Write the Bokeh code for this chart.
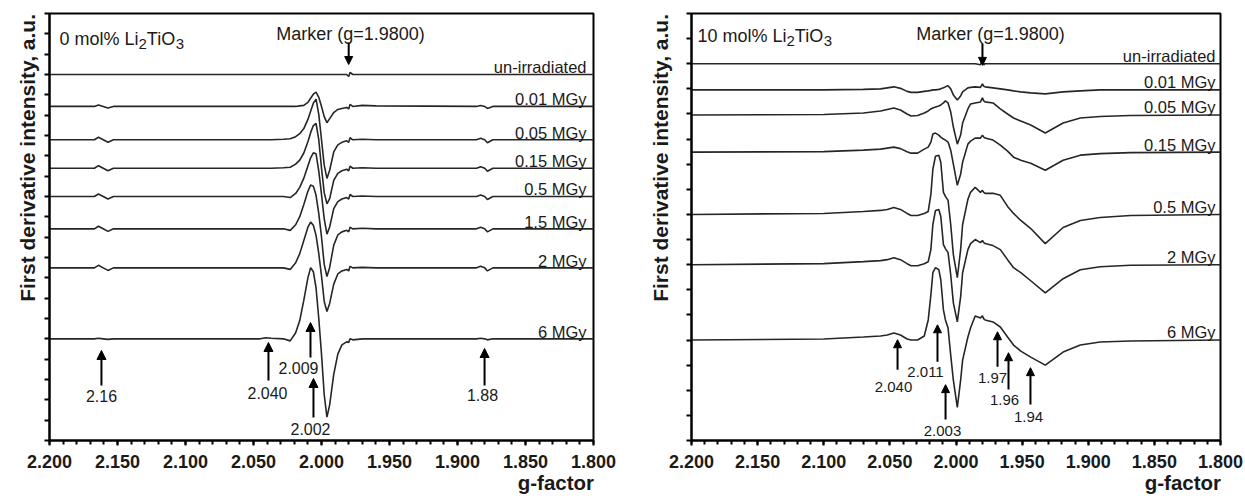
import math
import numpy as np
from bokeh.plotting import figure
from bokeh.models import (Range1d, FixedTicker, Label, Arrow, NormalHead, LinearAxis,
                          CustomJSTickFormatter, PrintfTickFormatter)
from bokeh.layouts import row
from bokeh.embed import file_html
from bokeh.resources import INLINE

FONT = "Liberation Sans"
TXT = "#1a1a1a"
LINE = "#262626"

# ---------------- LEFT PANEL: 0 mol% Li2TiO3 ----------------
LEFT_DOSES = ["un-irradiated", "0.01 MGy", "0.05 MGy", "0.15 MGy",
              "0.5 MGy", "1.5 MGy", "2 MGy", "6 MGy"]
LEFT_BASE = [360, 328.6, 295.8, 267.8, 240, 208.2, 169.8, 100]
LEFT_G = [2.200, 2.167, 2.164, 2.1605, 2.157, 2.153,
          2.045, 2.041, 2.037, 2.028, 2.023, 2.019, 2.016, 2.013, 2.010, 2.008,
          2.006, 2.004, 2.002, 2.000, 1.998, 1.996, 1.994, 1.991, 1.988, 1.985,
          1.9815, 1.980, 1.979, 1.977, 1.970, 1.960,
          1.886, 1.883, 1.880, 1.878, 1.874, 1.800]
L_UNIRR = [0, 0, 0, 0, 0, 0,
           0, 0, 0, 0, 0, 0, 0, 0, 0, 0, 0, 0, 0, 0, 0, 0, 0, 0, 0, 0,
           0, -2, 2, 0, 0, 0,
           0, 0, 0, 0, 0, 0]
L_001 = [0, 0, 1.5, 0, -1.5, 0,
         0, 0, 0, 0, 0, 0, 0.5, 1, 4, 8, 12, 14, 9, 0, -10, -16, -12, -6, -3, -2,
         -1, -2.5, 2, 0, 1, 0.5,
         0, 1, 0, -2, 0, 0]
L_005 = [0, 0, 2.5, 0, -2.5, 0,
         0, 0, 0, 0.5, 1, 3, 6, 11, 20, 28, 36, 40, 25, 0, -25, -38, -30, -12, -5, -2.5,
         -1, -2.5, 2, 0, 0.5, 0,
         0, 1.5, 0, -3, 0, 0]
L_015 = [0, 0, 2.5, 0, -2.5, 0,
         0, 0, 0, 0.5, 1, 4, 8, 15, 26, 35, 42, 44, 28, 0, -24, -35, -30, -12, -5, -2.5,
         -1, -2.5, 2, 0, 0.5, 0,
         0, 1.5, 0, -3, 0, 0]
L_05 = [0, 0, 2.5, 0, -2.5, 0,
        0, 0, 0, 0, -1, 3, 9, 18, 30, 38, 43, 42, 25, 2, -22, -37, -30, -12, -5, -2.5,
        -1, -2.5, 2, 0, 0.5, 0,
        0, 1.5, 0, -3, 0, 0]
L_15 = [0, 0, 2.5, 0, -2.5, 0,
        0, 0, 0, 0, -1.5, 4, 12, 24, 37, 43, 42, 33, 15, -8, -35, -47, -38, -16, -6, -3,
        -1.5, -3, 1.5, 0, 0.5, 0,
        0, 1.5, 0, -3, 0, 0]
L_2 = [0, 0, 2.5, 0, -2.5, 0,
       0, 0, 0, 0, -1.5, 5, 14, 27, 40, 45, 42, 32, 14, -8, -33, -43, -35, -16, -6, -3,
       -1.5, -3, 1.5, 0, 0.5, 0,
       0, 1.5, 0, -3, 0, 0]
L_6 = [0, 0, 0.5, 0, -0.5, 0,
       0, 1, 0.5, 0, -2, 6, 18, 38, 60, 70, 66, 50, 20, -15, -55, -77, -65, -35, -15, -6,
       -3, -3.5, 0, -1, 0, 0,
       0, 0.5, 0, -1, 0, 0]
LEFT_TRACES = [L_UNIRR, L_001, L_005, L_015, L_05, L_15, L_2, L_6]
LEFT_PEAK_G = [2.1618, 2.039, 2.0081, 2.0059, 1.8801]
LEFT_PEAK_LABELS = ["2.16", "2.040", "2.009", "2.002", "1.88"]

# ---------------- RIGHT PANEL: 10 mol% Li2TiO3 ----------------
RIGHT_DOSES = ["un-irradiated", "0.01 MGy", "0.05 MGy", "0.15 MGy",
               "0.5 MGy", "2 MGy", "6 MGy"]
RIGHT_BASE = [375, 349, 324, 287, 225, 175, 100]
RIGHT_G = [2.200, 2.100, 2.070, 2.057, 2.052, 2.047, 2.042, 2.037, 2.034, 2.029,
           2.024, 2.021, 2.019, 2.0175, 2.0155, 2.013, 2.0115, 2.0095, 2.008, 2.006,
           2.004, 2.002, 1.999, 1.9965, 1.995, 1.991, 1.989, 1.9855, 1.9815, 1.980,
           1.979, 1.978, 1.972, 1.9665, 1.961, 1.9565, 1.951, 1.9435, 1.9325, 1.919,
           1.906, 1.891, 1.868, 1.800]
R_UNIRR = [0] * 28 + [-1, 4, -1] + [0] * 13
R_001 = [0, 0, 0.5, 1, 2, 3, 1.5, -1.5, -2.5, -2.5, -1.5, -1, -0.5, 0, 0, 0.5, 1, 2, 3, 4,
         1, -5, -10, -6, -2, 2, 2.5, 3, 2.5, 6, 3.5, 3, 2, 1, 0, -1, -2, -3, -4, -2,
         -1, 0, 0, 0]
R_005 = [0, 0.5, 2, 4, 5.5, 7, 5, 1, -1, -0.5, 2, 4, 6, 7, 8, 9, 10, 12, 14, 12,
         3, -12, -29, -20, -8, 6, 11, 12, 13, 17, 14, 13, 12, 6, 1, -3, -6, -10, -18, -8,
         -3, -1.5, -0.5, 0]
R_015 = [0, 0.5, 2, 3, 4, 5, 3.5, 0.5, -1, -1, 3, 5, 10, 18, 19, 17, 15, 13, 12, 10,
         2, -12, -33, -22, -10, 8, 11, 14, 14, 17, 15, 14, 12, 7, 1, -5, -8, -11, -18, -8,
         -3, -1.5, -0.5, 0]
R_05 = [0, 1, 3, 4, 5, 7, 5, 1, -1, -1, 1, 3, 20, 45, 58, 59, 52, 22, 18, 14,
        -10, -40, -63, -35, -10, 15, 22, 27, 22, 24, 22, 21, 21, 19, 8, 1, -6, -14, -29, -13,
        -6, -3, -1, 0]
R_2 = [0, 1, 3, 4, 5, 7, 5, 1, -1, -1, 1, 3, 15, 40, 54, 55, 48, 20, 16, 12,
       -10, -38, -57, -32, -8, 15, 21, 25, 22, 24, 22, 21, 19, 15, 5, -3, -8, -16, -28, -14,
       -5, -2, -0.5, 0]
R_6 = [0, 1, 3, 4, 5, 7, 5, 1, 0, 0, 4, 20, 45, 67, 72, 70, 60, 30, 20, 12,
       -15, -40, -67, -40, -20, 3, 12, 24, 22, 24, 21, 20, 18, 13, 3, -5, -11, -17, -25, -12,
       -5, -2, -1, 0]
RIGHT_TRACES = [R_UNIRR, R_001, R_005, R_015, R_05, R_2, R_6]
RIGHT_PEAK_G = [2.0442, 2.0140, 2.0079, 1.9686, 1.9603, 1.9437]
RIGHT_PEAK_LABELS = ["2.040", "2.011", "2.003", "1.97", "1.96", "1.94"]

MARKER_G = 1.98
X_MAJOR = [round(2.2 - 0.05 * i, 3) for i in range(9)]
X_MINOR = [round(2.2 - 0.01 * i, 3) for i in range(41)]
Y_TITLE = "First derivative intensity, a.u."
X_TITLE = "g-factor"

# Arial-like advance widths (per 1000 em) for composing sub-scripted titles
ADV = {'0': 556, '1': 556, '2': 556, '3': 556, ' ': 278, 'm': 833, 'o': 556,
       'l': 222, '%': 889, 'L': 556, 'i': 222, 'T': 611, 'O': 778, 'g': 611,
       '-': 333, 'f': 333, 'a': 556, 'c': 556, 't': 333, 'r': 389}


def tw(s, size):
    return sum(ADV[c] for c in s) * size / 1000.0


def make_panel(width, bl, br, bb, n_ticks, step, frame_px_h, frame_left_px,
               frame_right_px, frame_bottom_px, px_per_g, ytitle_top_py, ytitle_standoff):
    p = figure(width=width, height=499, output_backend="svg", toolbar_location=None,
               x_range=Range1d(2.2, 1.8), y_range=Range1d(0, n_ticks * step),
               min_border_left=bl, min_border_right=br, min_border_top=13,
               min_border_bottom=bb)
    p.background_fill_color = "white"
    p.border_fill_color = "white"
    p.outline_line_color = "black"
    p.outline_line_width = 2
    p.grid.visible = False
    xa = p.xaxis[0]
    xa.ticker = FixedTicker(ticks=X_MAJOR, minor_ticks=X_MINOR)
    xa.formatter = PrintfTickFormatter(format="%.3f")
    xa.major_label_text_font = FONT
    xa.major_label_text_font_style = "bold"
    xa.major_label_text_font_size = "18px"
    xa.major_label_text_color = TXT
    xa.major_label_standoff = 9
    xa.axis_line_width = 2
    xa.major_tick_out = 5
    xa.major_tick_in = 0
    xa.minor_tick_out = 4
    xa.minor_tick_in = 0
    xa.major_tick_line_width = 2
    xa.minor_tick_line_width = 2
    ya = p.yaxis[0]
    ya.ticker = FixedTicker(ticks=[i * step for i in range(n_ticks + 1)])
    ya.formatter = CustomJSTickFormatter(code="return ''")
    ya.major_label_text_font_size = "1px"
    ya.major_label_standoff = 0
    ya.axis_line_width = 2
    ya.major_tick_out = 5
    ya.major_tick_in = 0
    ya.major_tick_line_width = 2
    ya.minor_tick_line_color = None
    scale = frame_px_h / (n_ticks * step)

    def yy(py):  # reference page pixel row -> data units
        return (frame_bottom_px - py) / scale

    def gx(px):  # reference page pixel column -> g
        return 2.2 - (px - frame_left_px) / px_per_g

    # axis titles: one-tick helper axes so the text sits where the reference has it
    xt_size = 20.5
    xt = LinearAxis(ticker=FixedTicker(ticks=[gx(frame_right_px - tw(X_TITLE, xt_size) / 2)],
                                       minor_ticks=[]),
                    formatter=CustomJSTickFormatter(code=f"return {X_TITLE!r}"))
    # the rotated label ends at its tick, so the tick marks the top of the text
    yt = LinearAxis(ticker=FixedTicker(ticks=[yy(ytitle_top_py)], minor_ticks=[]),
                    formatter=CustomJSTickFormatter(code=f"return {Y_TITLE!r}"),
                    major_label_orientation=math.pi / 2)
    for ax, size, so in ((xt, xt_size, 0), (yt, 21, ytitle_standoff)):
        ax.axis_line_color = None
        ax.major_tick_line_color = None
        ax.minor_tick_line_color = None
        ax.major_tick_out = 0
        ax.major_tick_in = 0
        ax.major_label_standoff = so
        ax.major_label_text_font = FONT
        ax.major_label_text_font_style = "bold"
        ax.major_label_text_font_size = f"{size}px"
        ax.major_label_text_color = TXT
    p.add_layout(xt, "below")
    p.add_layout(yt, "left")
    return p, yy, gx


def label(p, x, y, text, size, align="center", baseline="middle", bold=False):
    p.add_layout(Label(x=x, y=y, text=text, text_font=FONT, text_font_size=f"{size}px",
                       text_font_style="bold" if bold else "normal", text_color=TXT,
                       text_align=align, text_baseline=baseline))


def arrow(p, g, y0, y1, size=9):
    p.add_layout(Arrow(end=NormalHead(size=size, fill_color="black", line_color="black",
                                      line_width=1),
                       x_start=g, y_start=y0, x_end=g, y_end=y1,
                       line_color="black", line_width=2))


def title(p, gx, yy, start_px, base_py, prefix):
    big, small = 18, 15
    x = start_px
    label(p, gx(x), yy(base_py), prefix + " mol% Li", big, "left", "alphabetic")
    x += tw(prefix + " mol% Li", big)
    label(p, gx(x), yy(base_py + 5), "2", small, "left", "alphabetic")
    x += tw("2", small)
    label(p, gx(x), yy(base_py), "TiO", big, "left", "alphabetic")
    x += tw("TiO", big)
    label(p, gx(x), yy(base_py + 5), "3", small, "left", "alphabetic")


# ---------- left figure: canvas x 0..630, frame 49..593, y 13..440 ----------
pl, ly, lgx = make_panel(630, 49, 37, 59, 21, 20, 427, 49, 593, 440, 1360, 13.5, 17)
lg = np.array(LEFT_G)
for base, tr in zip(LEFT_BASE, LEFT_TRACES):
    pl.line(lg, base + np.array(tr), line_color=LINE, line_width=1.6)
for base, name in zip(LEFT_BASE, LEFT_DOSES):
    label(pl, lgx(586), base + 7, name, 16.5, "right", "alphabetic")
label_pos_left = [(350, 385, 101, 395), (342, 380, 267, 392), (322, 357, 298, 367),
                  (378, 417, 310, 428), (348, 385, 482, 394)]
for g, txt, (tip, tail, lxp, lyp) in zip(LEFT_PEAK_G, LEFT_PEAK_LABELS, label_pos_left):
    arrow(pl, g, ly(tail), ly(tip))
    label(pl, lgx(lxp), ly(lyp), txt, 16)
arrow(pl, MARKER_G, ly(42), ly(64), size=8)
label(pl, lgx(350), ly(33), "Marker (g=1.9800)", 18, "center", "alphabetic")
title(pl, lgx, ly, 59, 38, "0")

# ---------- right figure: canvas x 630..1245, frame 691..1220, y 13..441 ----------
pr, ry, rgx = make_panel(615, 61, 25, 58, 17, 25, 428, 691, 1220, 441, 1322.5, 13.5, 26)
rg = np.array(RIGHT_G)
for base, tr in zip(RIGHT_BASE, RIGHT_TRACES):
    pr.line(rg, base + np.array(tr), line_color=LINE, line_width=1.6)
for base, name in zip(RIGHT_BASE, RIGHT_DOSES):
    label(pr, rgx(1215), base + 7.5, name, 16.5, "right", "alphabetic")
label_pos_right = [(340, 370, 893, 387), (325, 362, 925, 372), (385, 420, 942, 431),
                   (332, 367, 992, 378), (353, 390, 1004, 400), (368, 405, 1028, 417)]
for g, txt, (tip, tail, lxp, lyp) in zip(RIGHT_PEAK_G, RIGHT_PEAK_LABELS, label_pos_right):
    arrow(pr, g, ry(tail), ry(tip), size=8)
    label(pr, rgx(lxp), ry(lyp), txt, 15)
arrow(pr, MARKER_G, ry(43), ry(65), size=8)
label(pr, rgx(990), ry(34), "Marker (g=1.9800)", 18, "center", "alphabetic")
title(pr, rgx, ry, 697, 36, "10")

layout = row(pl, pr)
open("out.html", "w").write(file_html(layout, INLINE))
